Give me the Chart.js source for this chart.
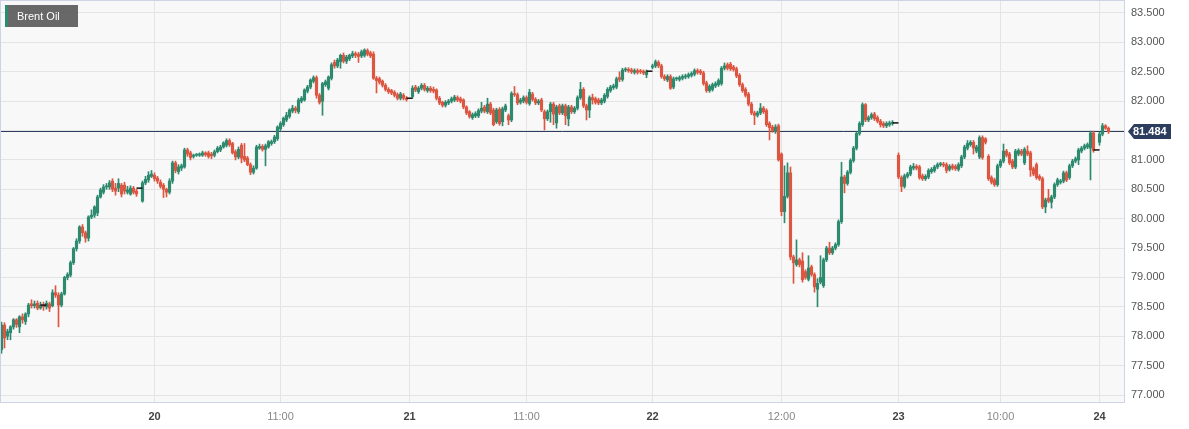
<!DOCTYPE html>
<html><head><meta charset="utf-8">
<script src="https://cdn.jsdelivr.net/npm/chart.js@4.4.1/dist/chart.umd.min.js"></script>
<style>
html,body{margin:0;padding:0;background:#fff;}
#wrap{position:relative;width:1189px;height:429px;}
#legend{position:absolute;left:5px;top:5px;width:73px;height:22px;background:rgba(92,92,92,0.93);border-left:3px solid #2d8a6f;box-sizing:border-box;color:#fff;font:11px "Liberation Sans",Arial,sans-serif;line-height:22px;padding-left:9px;}
</style></head>
<body><div id="wrap"><canvas id="c" width="1189" height="429"></canvas><div id="legend">Brent Oil</div></div>
<script>
// ---- data ----
const opens = [
77.77,78.19,78.00,78.06,78.16,78.28,78.16,78.33,78.25,78.38,
78.55,78.52,78.56,78.48,78.53,78.50,78.55,78.52,78.74,78.70,
78.53,78.72,79.00,79.04,79.25,79.49,79.62,79.86,79.76,79.67,
80.03,80.06,80.10,80.37,80.45,80.54,80.54,80.64,80.52,80.52,
80.57,80.57,80.45,80.42,80.52,80.47,null,80.30,80.61,80.66,
80.72,80.74,80.69,80.62,80.57,80.50,80.45,80.64,80.95,80.80,
80.86,80.88,81.17,81.12,81.06,81.08,81.08,81.08,81.12,81.12,
81.10,81.08,81.14,81.17,81.22,81.25,81.33,81.28,81.14,81.05,
81.25,81.06,81.03,80.92,80.79,80.86,81.20,81.23,81.18,81.22,
81.28,81.31,81.36,81.53,81.60,81.68,81.74,81.83,81.88,81.82,
82.00,82.02,82.17,82.24,82.34,82.40,82.10,82.00,82.28,82.22,
82.39,82.66,82.60,82.67,82.78,82.68,82.72,82.77,82.81,82.80,
82.77,82.78,82.86,82.82,82.80,82.39,82.38,82.34,82.27,82.20,
82.18,82.15,82.11,82.05,82.10,82.05,null,82.08,82.24,82.16,
82.22,82.27,82.18,82.22,82.20,82.19,82.05,81.98,81.93,81.97,
82.00,82.02,82.06,82.04,82.02,81.90,81.82,81.72,81.75,81.75,
81.83,81.90,81.82,81.95,81.85,81.65,81.86,81.65,81.85,81.75,
81.68,82.12,82.11,81.98,82.00,82.06,81.96,82.12,82.03,81.97,
82.02,81.82,81.70,81.82,81.95,81.63,81.92,81.80,81.92,81.70,
81.90,81.82,81.88,82.06,82.20,81.92,81.85,82.06,82.04,82.02,
81.97,82.00,82.08,82.18,82.23,82.24,82.40,82.37,82.53,82.54,
82.53,82.49,82.52,82.51,82.51,82.45,null,82.58,82.60,82.66,
82.60,82.42,82.36,82.42,82.24,82.38,82.37,82.39,82.41,82.42,
82.44,82.46,82.52,82.51,82.48,82.31,82.18,82.20,82.26,82.28,
82.30,82.56,82.62,82.63,82.58,82.55,82.44,82.28,82.20,82.12,
81.95,81.80,81.76,81.80,81.88,81.84,81.62,81.56,81.48,81.58,
81.10,80.12,80.38,80.78,79.35,79.22,79.30,79.28,79.10,78.97,
79.18,79.05,78.80,78.92,78.86,79.30,79.50,79.42,79.50,79.56,
79.95,80.71,80.60,80.79,80.99,81.20,81.45,81.60,81.94,81.68,
81.72,81.78,81.72,81.66,81.62,81.58,81.60,81.62,null,81.08,
80.70,80.55,80.72,80.76,80.86,80.89,80.88,80.73,80.68,80.71,
80.80,80.82,80.88,80.92,80.93,80.92,80.84,80.90,80.89,80.84,
80.90,81.05,81.20,81.26,81.30,81.15,81.05,81.38,81.36,81.06,
80.70,80.66,80.58,80.90,80.98,81.15,81.10,80.98,80.88,81.10,
81.15,80.95,81.15,81.12,80.85,80.92,80.72,80.68,80.20,80.35,
80.28,80.37,80.58,80.62,80.64,80.78,80.70,80.90,80.98,81.00,
81.15,81.20,81.22,81.20,81.46,null,81.30,81.44,81.58,81.54];
const highs = [
78.24,78.23,78.12,78.18,78.30,78.30,78.35,78.38,78.40,78.56,
78.62,78.60,78.60,78.58,78.58,78.60,78.58,78.79,78.86,78.74,
78.75,79.02,79.08,79.28,79.51,79.66,79.88,79.90,79.79,80.05,
80.15,80.22,80.40,80.52,80.58,80.60,80.65,80.68,80.60,80.68,
80.60,80.62,80.55,80.56,80.55,80.50,null,80.64,80.72,80.80,
80.82,80.78,80.72,80.66,80.60,80.52,80.68,80.98,80.98,80.92,
80.93,81.20,81.20,81.15,81.10,81.11,81.12,81.15,81.14,81.15,
81.13,81.17,81.23,81.25,81.31,81.36,81.36,81.30,81.17,81.22,
81.28,81.28,81.06,80.95,80.90,81.25,81.27,81.26,81.27,81.33,
81.34,81.42,81.58,81.65,81.73,81.81,81.87,81.93,81.91,82.05,
82.08,82.21,82.27,82.38,82.43,82.43,82.13,82.32,82.36,82.43,
82.65,82.70,82.73,82.80,82.82,82.78,82.80,82.85,82.84,82.83,
82.87,82.89,82.89,82.85,82.84,82.42,82.41,82.36,82.30,82.23,
82.20,82.18,82.14,82.15,82.13,82.08,null,82.26,82.27,82.25,
82.30,82.30,82.25,82.25,82.24,82.21,82.08,82.00,82.01,82.03,
82.07,82.10,82.09,82.07,82.04,81.92,81.84,81.80,81.82,81.87,
81.98,81.93,82.05,81.98,81.88,81.88,81.89,81.90,81.95,81.78,
82.16,82.25,82.14,82.05,82.09,82.09,82.20,82.15,82.06,82.03,
82.05,81.85,81.85,81.98,81.98,81.93,81.95,81.95,81.95,81.93,
81.93,81.91,82.09,82.32,82.23,81.95,82.09,82.12,82.07,82.05,
82.05,82.13,82.23,82.27,82.29,82.41,82.50,82.56,82.57,82.57,
82.56,82.55,82.55,82.54,82.53,82.53,null,82.63,82.70,82.69,
82.63,82.45,82.45,82.45,82.41,82.41,82.43,82.45,82.46,82.48,
82.50,82.55,82.55,82.54,82.51,82.34,82.28,82.31,82.33,82.38,
82.59,82.65,82.65,82.66,82.61,82.58,82.47,82.31,82.23,82.15,
81.98,81.83,81.83,81.96,81.91,81.87,81.65,81.59,81.60,81.61,
81.12,80.90,80.95,80.88,79.38,79.64,79.33,79.42,79.13,79.37,
79.21,79.08,78.98,79.37,79.33,79.53,79.60,79.53,79.59,79.98,
80.96,80.74,80.82,81.02,81.23,81.48,81.65,81.97,81.96,81.75,
81.80,81.81,81.75,81.69,81.65,81.65,81.66,81.67,null,81.12,
80.73,80.76,80.79,80.91,80.94,80.92,80.91,80.76,80.75,80.85,
80.87,80.91,80.95,80.96,80.96,80.95,80.92,80.93,80.92,80.95,
81.08,81.25,81.33,81.33,81.33,81.25,81.41,81.41,81.38,81.09,
80.73,80.69,80.93,81.01,81.27,81.18,81.13,81.01,81.18,81.19,
81.18,81.21,81.24,81.15,80.88,80.95,80.75,80.71,80.35,80.50,
80.40,80.61,80.69,80.67,80.81,80.81,80.93,81.01,81.05,81.20,
81.23,81.27,81.29,81.49,81.49,null,81.47,81.62,81.60,81.56];
const lows = [
77.71,77.80,77.94,77.94,78.12,78.15,78.06,78.22,78.20,78.33,
78.48,78.48,78.45,78.46,78.44,78.46,78.42,78.50,78.66,78.16,
78.50,78.70,78.96,79.01,79.22,79.45,79.58,79.70,79.60,79.62,
80.00,80.02,80.05,80.35,80.42,80.50,80.50,80.46,80.40,80.46,
80.37,80.42,80.42,80.40,80.42,80.38,null,80.28,80.58,80.62,
80.70,80.64,80.60,80.52,80.36,80.37,80.42,80.60,80.78,80.76,
80.82,80.86,81.06,81.00,81.03,81.06,81.06,81.06,81.06,81.03,
81.02,81.05,81.12,81.14,81.20,81.22,81.23,81.10,81.00,81.02,
80.95,80.97,80.90,80.75,80.76,80.84,81.18,81.15,80.90,81.20,
81.25,81.28,81.33,81.50,81.57,81.65,81.71,81.80,81.80,81.79,
81.97,82.00,82.14,82.21,82.31,82.05,81.95,81.76,82.25,82.19,
82.36,82.56,82.57,82.56,82.65,82.64,82.69,82.74,82.74,82.66,
82.74,82.75,82.77,82.74,82.37,82.14,82.29,82.24,82.17,82.13,
82.11,82.07,82.02,82.02,82.02,82.00,null,82.05,82.16,82.13,
82.19,82.17,82.15,82.15,82.14,82.02,81.94,81.90,81.90,81.94,
81.97,81.99,81.99,81.97,81.87,81.77,81.71,81.69,81.72,81.72,
81.80,81.80,81.79,81.77,81.58,81.62,81.59,81.58,81.82,81.60,
81.65,82.08,81.94,81.95,81.97,81.95,81.93,82.00,81.94,81.94,
81.82,81.51,81.67,81.64,81.60,81.54,81.77,81.77,81.60,81.58,
81.79,81.79,81.85,82.03,81.89,81.68,81.72,81.95,81.95,81.94,
81.94,81.97,82.05,82.15,82.20,82.21,82.33,82.34,82.50,82.49,
82.47,82.46,82.46,82.47,82.45,82.40,null,82.55,82.57,82.57,
82.39,82.35,82.33,82.20,82.21,82.35,82.34,82.36,82.38,82.39,
82.41,82.43,82.46,82.45,82.27,82.15,82.15,82.17,82.23,82.25,
82.27,82.53,82.53,82.52,82.51,82.40,82.25,82.15,82.07,81.92,
81.77,81.60,81.73,81.77,81.79,81.57,81.34,81.47,81.45,80.98,
80.05,79.93,80.35,79.30,78.90,79.19,79.18,78.92,78.97,78.94,
79.02,78.75,78.50,78.89,78.83,79.27,79.39,79.39,79.47,79.53,
79.92,80.44,80.57,80.76,80.96,81.17,81.42,81.57,81.65,81.65,
81.69,81.67,81.63,81.56,81.55,81.55,81.57,81.59,null,80.68,
80.46,80.52,80.69,80.73,80.83,80.83,80.67,80.65,80.65,80.68,
80.77,80.79,80.85,80.89,80.88,80.78,80.81,80.83,80.82,80.81,
80.87,81.02,81.17,81.23,81.10,81.12,81.02,81.01,81.27,80.65,
80.59,80.55,80.55,80.87,80.95,81.05,80.92,80.85,80.85,81.07,
81.07,80.92,81.07,80.72,80.73,80.67,80.65,80.17,80.10,80.27,
80.18,80.34,80.55,80.59,80.61,80.63,80.67,80.87,80.95,80.92,
81.12,81.17,81.19,80.66,81.13,null,81.25,81.41,81.52,81.45];
const closes = [
78.19,77.97,78.08,78.16,78.28,78.20,78.33,78.28,78.38,78.53,
78.52,78.55,78.48,78.53,78.50,78.56,78.48,78.74,78.70,78.53,
78.72,79.00,79.05,79.25,79.49,79.62,79.86,79.76,79.67,80.03,
80.06,80.20,80.37,80.49,80.54,80.56,80.61,80.50,80.47,80.60,
80.42,80.47,80.49,80.52,80.45,80.42,null,80.61,80.67,80.74,
80.76,80.68,80.64,80.55,80.50,80.45,80.64,80.95,80.82,80.88,
80.90,81.17,81.10,81.04,81.08,81.09,81.10,81.12,81.09,81.06,
81.07,81.14,81.20,81.22,81.29,81.33,81.26,81.12,81.05,81.18,
81.03,81.00,80.92,80.79,80.86,81.22,81.23,81.18,81.24,81.31,
81.31,81.39,81.56,81.62,81.71,81.76,81.85,81.88,81.84,82.02,
82.05,82.19,82.24,82.36,82.40,82.10,81.98,82.30,82.33,82.41,
82.62,82.60,82.70,82.78,82.68,82.75,82.78,82.81,82.78,82.76,
82.84,82.87,82.80,82.77,82.39,82.35,82.32,82.27,82.20,82.16,
82.14,82.10,82.05,82.12,82.05,82.03,null,82.22,82.19,82.22,
82.27,82.20,82.22,82.18,82.17,82.05,81.97,81.93,81.98,82.00,
82.04,82.07,82.02,82.00,81.90,81.80,81.74,81.77,81.79,81.84,
81.88,81.83,81.95,81.80,81.60,81.85,81.62,81.87,81.92,81.68,
82.13,82.11,81.97,82.02,82.06,81.98,82.15,82.03,81.97,82.00,
81.85,81.70,81.82,81.95,81.78,81.90,81.80,81.92,81.75,81.90,
81.82,81.88,82.06,82.20,81.92,81.85,82.06,82.02,81.98,81.97,
82.02,82.10,82.20,82.24,82.26,82.38,82.37,82.53,82.54,82.52,
82.50,82.52,82.49,82.50,82.48,82.50,null,82.60,82.67,82.60,
82.42,82.38,82.42,82.22,82.38,82.39,82.40,82.42,82.43,82.45,
82.47,82.52,82.49,82.48,82.30,82.18,82.25,82.28,82.30,82.35,
82.56,82.60,82.56,82.55,82.54,82.43,82.28,82.18,82.10,81.95,
81.80,81.76,81.80,81.88,81.82,81.60,81.55,81.50,81.56,81.00,
80.12,80.38,80.78,79.35,79.25,79.30,79.22,78.96,79.00,79.16,
79.05,78.84,78.90,79.00,79.30,79.50,79.42,79.50,79.56,79.95,
80.71,80.60,80.79,80.99,81.20,81.45,81.62,81.94,81.68,81.72,
81.77,81.70,81.66,81.60,81.58,81.62,81.63,81.64,null,80.71,
80.55,80.73,80.76,80.88,80.89,80.86,80.70,80.68,80.72,80.82,
80.84,80.88,80.92,80.93,80.91,80.82,80.89,80.86,80.85,80.92,
81.05,81.22,81.28,81.30,81.20,81.22,81.38,81.04,81.30,80.68,
80.62,80.58,80.90,80.98,81.15,81.08,80.95,80.88,81.15,81.16,
81.10,81.18,81.10,80.83,80.76,80.70,80.68,80.20,80.32,80.30,
80.37,80.58,80.66,80.64,80.78,80.66,80.90,80.98,81.02,81.17,
81.20,81.24,81.26,81.46,81.16,null,81.44,81.58,81.54,81.48];

const slotCount = 375;                       // candle slots on the time axis
const tickIdx  = [51, 93, 136, 175, 217, 260, 299, 333, 366];
const tickText = ['20','11:00','21','11:00','22','12:00','23','10:00','24'];
const dayTicks = [51, 136, 217, 299, 366];
const yTicks   = [77,77.5,78,78.5,79,79.5,80,80.5,81,81.5,82,82.5,83,83.5];
const markIdx  = [14, 46, 136, 216, 298, 365];   // previous-session close dashes
const markVals = [78.53, 80.52, 82.05, 82.51, 81.63, 81.17];
const lastPrice = 81.484;

// ---- build library structures ----
const GREEN = '#2d8a6f', RED = '#dc5642';
const labels = new Array(slotCount).fill('');
tickIdx.forEach((k, j) => { labels[k] = tickText[j]; });
const bodies = opens.map((o, i) => o == null ? null : [o, closes[i]]);
const wicks  = lows.map((l, i) => l == null ? null : [l, highs[i]]);
const cols   = opens.map((o, i) => (o != null && closes[i] >= o) ? GREEN : RED);
const marks  = new Array(slotCount).fill(null);
markIdx.forEach((k, j) => { marks[k] = markVals[j]; });

const FONT = '"Liberation Sans", Arial, Helvetica, sans-serif';

const deco = {
  id: 'deco',
  beforeDraw(chart) {
    const {ctx, chartArea: a} = chart;
    ctx.save();
    ctx.fillStyle = '#f8f8f8';
    ctx.fillRect(a.left, a.top, a.right - a.left, a.bottom - a.top);
    ctx.restore();
  },
  beforeDatasetsDraw(chart) {
    const {ctx, chartArea: a, scales} = chart;
    const y = Math.round(scales.y.getPixelForValue(lastPrice)) + 0.5;
    ctx.save();
    ctx.strokeStyle = '#2c3d5d';
    ctx.lineWidth = 1;
    ctx.beginPath(); ctx.moveTo(a.left, y); ctx.lineTo(a.right, y); ctx.stroke();
    ctx.restore();
  },
  afterDraw(chart) {
    const {ctx, chartArea: a, scales} = chart;
    ctx.save();
    ctx.strokeStyle = '#cdd4e6';
    ctx.lineWidth = 1;
    ctx.strokeRect(a.left + 0.5, a.top + 0.5, a.right - a.left - 1, a.bottom - a.top - 1);
    const y = Math.round(scales.y.getPixelForValue(lastPrice));
    const x0 = a.right + 3;
    ctx.fillStyle = '#2c3d5d';
    ctx.beginPath();
    ctx.moveTo(x0, y + 0.5);
    ctx.lineTo(x0 + 6, y - 7);
    ctx.lineTo(x0 + 43, y - 7);
    ctx.lineTo(x0 + 43, y + 8);
    ctx.lineTo(x0 + 6, y + 8);
    ctx.closePath();
    ctx.fill();
    ctx.fillStyle = '#ffffff';
    ctx.font = 'bold 11px ' + FONT;
    ctx.textBaseline = 'middle';
    ctx.textAlign = 'left';
    ctx.fillText(lastPrice.toFixed(3), x0 + 5, y + 1);
    ctx.restore();
  }
};

new Chart(document.getElementById('c'), {
  data: {
    labels: labels,
    datasets: [
      { type: 'bar', data: wicks, backgroundColor: cols, barThickness: 1, grouped: false, order: 2 },
      { type: 'bar', data: bodies, backgroundColor: cols, barThickness: 2.5, minBarLength: 1, grouped: false, order: 1 },
      { type: 'line', data: marks, showLine: false, pointStyle: 'line', pointRadius: 3,
        borderColor: '#111', pointBorderColor: '#111', pointBorderWidth: 1.5, order: 0, clip: false }
    ]
  },
  options: {
    responsive: false,
    animation: false,
    devicePixelRatio: 1,
    layout: { padding: 0, autoPadding: false },
    plugins: { legend: { display: false }, tooltip: { enabled: false } },
    scales: {
      x: {
        type: 'category',
        offset: true,
        grid: { offset: false, drawTicks: false, color: c => labels[c.index] ? '#e4e4e4' : 'rgba(0,0,0,0)' },
        border: { display: false },
        ticks: {
          autoSkip: false, maxRotation: 0, minRotation: 0, padding: 7,
          callback: (v, i) => labels[i],
          font: c => ({ family: FONT, size: 11, weight: dayTicks.includes(c.index) ? 'bold' : 'normal' }),
          color: c => dayTicks.includes(c.index) ? '#444' : '#888'
        },
        afterFit: s => { s.height = 26; s.paddingLeft = 0; s.paddingRight = 0; s.paddingTop = 0; s.paddingBottom = 0; }
      },
      y: {
        position: 'right',
        min: 76.8639, max: 83.7212,
        afterBuildTicks: s => { s.ticks = yTicks.map(v => ({ value: v })); },
        grid: { drawTicks: false, color: '#e4e4e4' },
        border: { display: false },
        ticks: { padding: 6, font: { family: FONT, size: 11 }, color: '#555',
                 callback: v => Number(v).toFixed(3) },
        afterFit: s => { s.width = 64; s.paddingLeft = 0; s.paddingRight = 0; s.paddingTop = 0; s.paddingBottom = 0; }
      }
    }
  },
  plugins: [deco]
});
</script>
</body></html>
